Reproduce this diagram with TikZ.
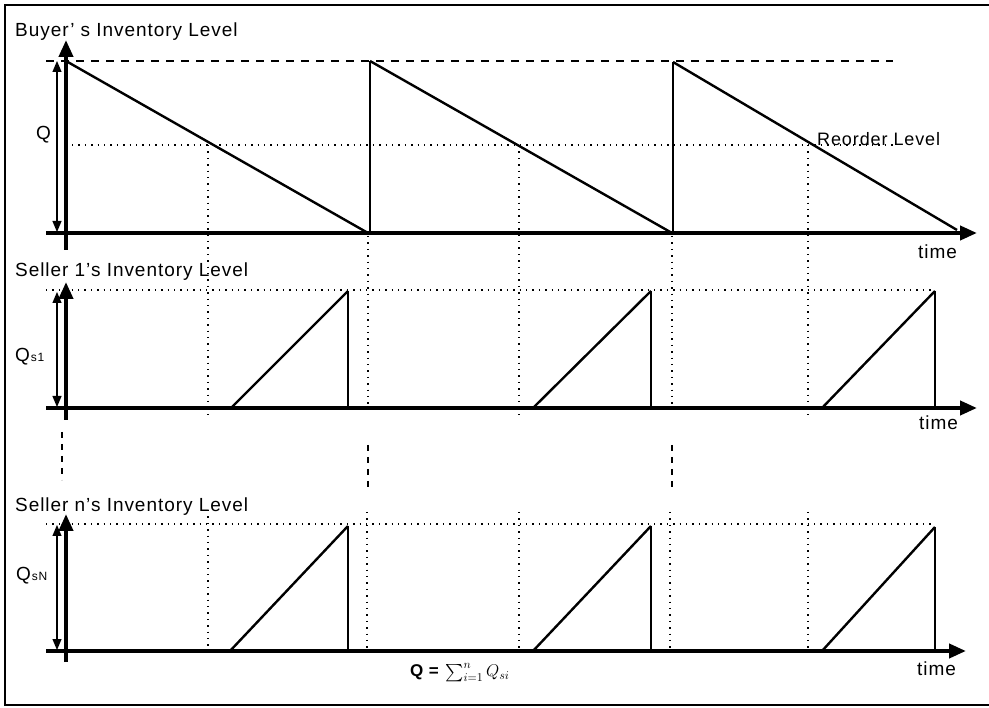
\documentclass[tikz,border=0pt]{standalone}
\usepackage{fix-cm}
\usepackage{amsmath}
\usepackage[no-math]{fontspec}
\setmainfont{Liberation Sans}[LetterSpace=5]
\usepackage{tikz}
\usetikzlibrary{arrows.meta, positioning}

\begin{document}
\begin{tikzpicture}[x=1pt, y=-1pt,
    axis/.style={line width=4pt, -{Triangle[length=17pt,width=14pt]}},
    qarrow/.style={line width=1.2pt, {Triangle[length=11pt,width=9pt]}-{Triangle[length=11pt,width=9pt]}},
    level/.style={line width=2.4pt},
    drop/.style={line width=1.5pt},
    guide/.style={line width=1.4pt, dash pattern=on 1.4pt off 5pt},
    topline/.style={line width=1.6pt, dash pattern=on 8pt off 7pt},
    split/.style={line width=2pt, dash pattern=on 6pt off 6pt},
    txt/.style={anchor=base west, inner sep=0pt, font=\fontsize{19}{21}\selectfont}]

    \useasboundingbox (0,0) rectangle (989,708);
    \draw [line width=1.5pt] (989,5) -- (5,5) -- (5,705) -- (989,705);

    % buyer
    \node [txt] (buyer) at (15,37) {Buyer' s Inventory Level};
    \draw [axis] (66,250) -- (66,40);
    \draw [axis] (46,233) -- (977,233);
    \draw [qarrow] (57,61) -- (57,232);
    \node [txt] (q) at (36,140) {Q};
    \draw [topline] (46,61) -- (893,61);
    \draw [guide] (72,145) -- (893,145);
    \node [txt, font=\fontsize{18}{20}\selectfont] (reorder) at (817,146) {Reorder Level};
    \node [txt] (time1) at (918,259) {time};

    \coordinate (top1) at (66,61);
    \coordinate (top2) at (370,61);
    \coordinate (top3) at (673,62);
    \coordinate (end1) at (368,233);
    \coordinate (end2) at (672,233);
    \draw [level] (top1) -- (end1);
    \draw [drop] (370,233) -- (top2);
    \draw [level] (top2) -- (end2);
    \draw [drop] (673,233) -- (top3);
    \draw [level] (top3) -- (957,230);

    % seller 1
    \node [txt] (seller1) at (15,277) {Seller 1's Inventory Level};
    \draw [axis] (66,420) -- (66,282);
    \draw [axis] (46,408) -- (977,408);
    \draw [qarrow] (57,292) -- (57,407);
    \node [txt] (qs1) at (15,362) {Q\hspace{1pt}{\fontsize{12}{14}\selectfont s1}};
    \draw [guide] (46,290) -- (935,290);
    \draw [level] (231,408) -- (348,291);
    \draw [drop] (348,291) -- (348,408);
    \draw [level] (533,408) -- (651,291);
    \draw [drop] (651,291) -- (651,408);
    \draw [level] (822,408) -- (935,291);
    \draw [drop] (935,291) -- (935,408);
    \node [txt] (time2) at (919,430) {time};

    % gaps between sellers
    \draw [split] (62,432) -- (62,480);
    \draw [split] (368,445) -- (368,492);
    \draw [split] (672,445) -- (672,492);

    % seller n
    \node [txt] (sellern) at (15,512) {Seller n's Inventory Level};
    \draw [axis] (66,662) -- (66,514);
    \draw [axis] (46,651) -- (966,651);
    \draw [qarrow] (57,525) -- (57,650);
    \node [txt] (qsn) at (16,581) {Q\hspace{1pt}{\fontsize{12}{14}\selectfont sN}};
    \draw [guide] (46,524) -- (935,524);
    \draw [level] (230,651) -- (348,526);
    \draw [drop] (348,526) -- (348,651);
    \draw [level] (533,651) -- (651,526);
    \draw [drop] (651,526) -- (651,651);
    \draw [level] (822,651) -- (935,527);
    \draw [drop] (935,527) -- (935,651);
    \node [txt] (time3) at (917,675) {time};
    \node [txt, font=\fontsize{17}{20}\selectfont] (sum) at (410,677) {\textbf{Q =} $\sum_{i=1}^{n} Q_{si}$};

    % reorder and cycle guides
    \draw [guide] (208,145) -- (208,415);
    \draw [guide] (519,145) -- (519,415);
    \draw [guide] (808,145) -- (808,415);
    \draw [guide] (368,236) -- (368,415);
    \draw [guide] (672,236) -- (672,415);
    \draw [guide] (208,510) -- (208,651);
    \draw [guide] (519,512) -- (519,651);
    \draw [guide] (808,512) -- (808,651);
    \draw [guide] (367,512) -- (367,651);
    \draw [guide] (670,512) -- (670,651);
\end{tikzpicture}
\end{document}
